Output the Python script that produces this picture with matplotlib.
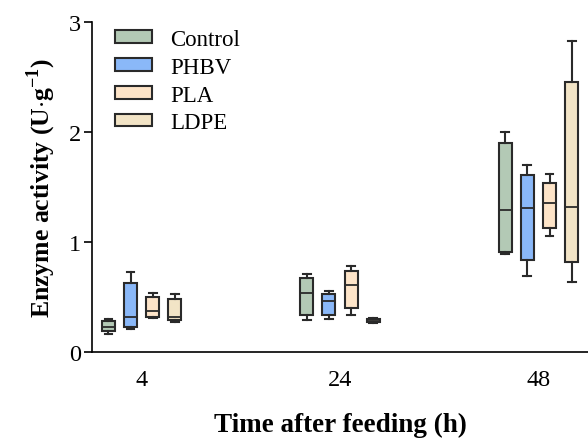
import matplotlib
matplotlib.use("Agg")
import matplotlib.pyplot as plt
from matplotlib.patches import Patch

plt.rcParams['font.family'] = ['Liberation Serif', 'DejaVu Serif']
plt.rcParams['mathtext.fontset'] = 'custom'
plt.rcParams['mathtext.rm'] = 'Liberation Serif'
plt.rcParams['mathtext.bf'] = 'Liberation Serif:bold'

times = ["4", "24", "48"]
groups = ["Control", "PHBV", "PLA", "LDPE"]
colors = ["#b3c9b5", "#8ab8f8", "#fde4c8", "#f2e4c6"]

# per group: lists over times of (whislo, q1, med, q3, whishi)
control = [(0.16, 0.19, 0.23, 0.28, 0.30), (0.29, 0.34, 0.54, 0.67, 0.71), (0.89, 0.91, 1.29, 1.90, 2.00)]
phbv = [(0.21, 0.23, 0.32, 0.63, 0.73), (0.30, 0.34, 0.46, 0.53, 0.55), (0.69, 0.84, 1.31, 1.61, 1.70)]
pla = [(0.31, 0.32, 0.37, 0.50, 0.54), (0.34, 0.40, 0.61, 0.74, 0.78), (1.05, 1.13, 1.35, 1.54, 1.62)]
ldpe = [(0.27, 0.29, 0.32, 0.48, 0.53), (0.26, 0.27, 0.285, 0.30, 0.31), (0.64, 0.82, 1.32, 2.45, 2.83)]
series = [control, phbv, pla, ldpe]

fig = plt.figure(figsize=(5.88, 4.39), dpi=100)
ax = fig.add_axes([0.1565, 0.196, 0.8435, 0.7516])

offsets = [-0.167, -0.056, 0.056, 0.167]
edge = "#2a2a2a"
for gi, (data, col) in enumerate(zip(series, colors)):
    stats = []
    for lo, q1, med, q3, hi in data:
        stats.append(dict(whislo=lo, q1=q1, med=med, q3=q3, whishi=hi, fliers=[]))
    pos = [i + offsets[gi] for i in range(len(times))]
    ax.bxp(stats, positions=pos, widths=0.066, patch_artist=True, showfliers=False,
           boxprops=dict(facecolor=col, edgecolor=edge, linewidth=1.5),
           medianprops=dict(color=edge, linewidth=1.3),
           whiskerprops=dict(color=edge, linewidth=1.5),
           capprops=dict(color=edge, linewidth=1.5), capwidths=0.04,
           manage_ticks=False)

ax.set_xlim(-0.25, 2.25)
ax.set_ylim(0, 3)
ax.set_xticks(range(len(times)))
ax.set_xticklabels(times, fontsize=17.5)
ax.set_yticks([0, 1, 2, 3])
ax.set_yticklabels(["0", "1", "2", "3"], fontsize=17.5)
ax.tick_params(axis='x', length=0, pad=12)
ax.tick_params(axis='y', length=6, width=1.2, pad=2)
for s in ["top", "right"]:
    ax.spines[s].set_visible(False)
for s in ["left", "bottom"]:
    ax.spines[s].set_linewidth(1.2)

ax.set_xlabel("Time after feeding (h)", fontsize=19.5, fontweight='bold', labelpad=16)
ax.set_ylabel(r"Enzyme activity (U$\cdot$g$^{\mathbf{-1}}$)", fontsize=18.5, fontweight='bold', labelpad=8)

handles = [Patch(facecolor=c, edgecolor=edge, linewidth=1.5) for c in colors]
ax.legend(handles, groups, loc="upper left", bbox_to_anchor=(0.005, 1.042), frameon=False,
          fontsize=16.5, handlelength=1.6, handleheight=0.45, labelspacing=0.3, handletextpad=0.8)

fig.savefig("out.png", dpi=100)
